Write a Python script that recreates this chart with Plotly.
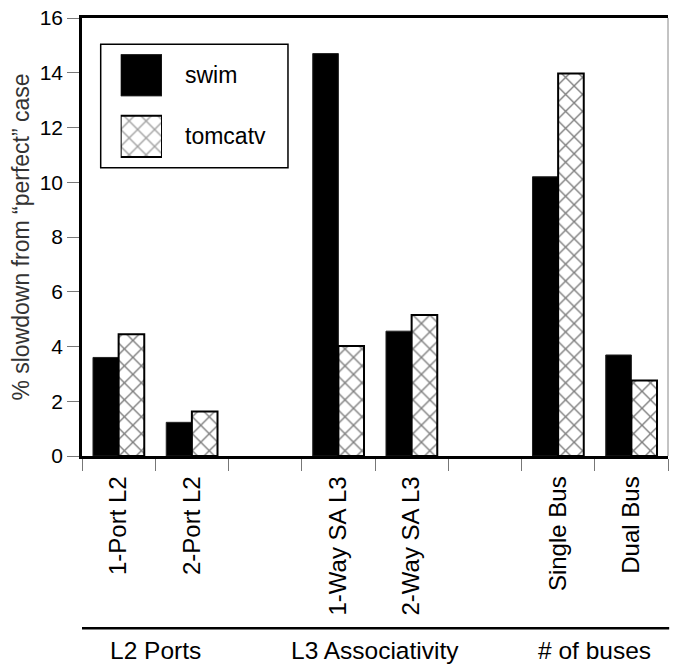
import plotly.graph_objects as go

# ---- data ----
categories = ["1-Port L2", "2-Port L2", " ", "1-Way SA L3", "2-Way SA L3", "  ", "Single Bus", "Dual Bus"]
swim = [3.6, 1.23, None, 14.7, 4.56, None, 10.2, 3.69]
tomcatv = [4.45, 1.63, None, 4.02, 5.15, None, 13.97, 2.76]
series_names = ["swim", "tomcatv"]
groups = ["L2 Ports", "L3 Associativity", "# of buses"]
group_members = [["1-Port L2", "2-Port L2"], ["1-Way SA L3", "2-Way SA L3"], ["Single Bus", "Dual Bus"]]
y_ticks = [0, 2, 4, 6, 8, 10, 12, 14, 16]

FONT = "Liberation Sans, Arial, sans-serif"
PAT = dict(shape="x", fgcolor="black", bgcolor="white", size=12, solidity=0.22)

fig = go.Figure()
fig.add_trace(go.Bar(
    name=series_names[0], x=categories, y=swim,
    marker=dict(color="black", line=dict(color="#222", width=1)),
    showlegend=False,
))
fig.add_trace(go.Bar(
    name=series_names[1], x=categories, y=tomcatv,
    marker=dict(color="white", pattern=PAT, line=dict(color="black", width=2)),
    showlegend=False,
))

# custom legend swatches on a hidden subplot
fig.add_trace(go.Bar(
    orientation="h", y=series_names, x=[1, 1], width=[0.675, 0.675],
    xaxis="x2", yaxis="y2", showlegend=False, hoverinfo="skip",
    marker=dict(color=["black", "white"],
                pattern=dict(shape=["", "x"], fgcolor="black", bgcolor="white", size=12, solidity=0.22),
                line=dict(color=["#222", "black"], width=[1, 2])),
))

annotations = []
for name in series_names:
    annotations.append(dict(x=0.1724, xref="paper", y=name, yref="y2", text=name,
                            showarrow=False, xanchor="left", yanchor="middle",
                            font=dict(size=23, color="black", family=FONT)))
for g, members in zip(groups, group_members):
    idx = [categories.index(m) for m in members]
    annotations.append(dict(x=sum(idx) / len(idx), xref="x", y=-0.445, yref="paper", text=g,
                            showarrow=False, xanchor="center", yanchor="middle",
                            font=dict(size=24.5, color="black", family=FONT)))

shapes = [
    # legend box
    dict(type="rect", xref="paper", yref="paper", x0=0.0319, x1=0.3515, y0=0.658, y1=0.9398,
         line=dict(color="black", width=1.5), fillcolor="rgba(0,0,0,0)"),
    # right border
    dict(type="line", xref="paper", yref="paper", x0=1, x1=1, y0=0, y1=1,
         line=dict(color="#888", width=1)),
    # group separator line
    dict(type="line", xref="paper", yref="paper", x0=0, x1=1.002, y0=-0.393, y1=-0.393,
         line=dict(color="black", width=2.5)),
]

fig.update_layout(
    width=674, height=669,
    margin=dict(l=82, r=6, t=16, b=213),
    paper_bgcolor="white", plot_bgcolor="white",
    barmode="group", bargap=0.3, bargroupgap=0,
    font=dict(family=FONT, color="black"),
    xaxis=dict(
        type="category", categoryorder="array", categoryarray=categories,
        range=[-0.5, len(categories) - 0.5],
        showline=True, linecolor="black", linewidth=2.5, mirror=True,
        ticks="outside", tickson="boundaries", ticklen=12, tickcolor="#777", tickwidth=1,
        tickangle=-90, ticklabelstandoff=8,
        tickfont=dict(size=24, color="black", family=FONT),
        showgrid=False, zeroline=False,
    ),
    yaxis=dict(
        range=[0, 16], tickvals=y_ticks,
        showline=True, linecolor="black", linewidth=2.5,
        ticks="outside", ticklen=12, tickcolor="#777", tickwidth=1,
        tickfont=dict(size=21, color="black", family=FONT),
        showgrid=False, zeroline=False,
        title=dict(text="% slowdown from “perfect” case", standoff=4,
                   font=dict(size=23, color="#333", family=FONT)),
    ),
    xaxis2=dict(domain=[0.066, 0.1365], range=[0, 1], anchor="y2", visible=False, fixedrange=True),
    yaxis2=dict(domain=[0.6597, 0.9392], range=[1.5, -0.5], anchor="x2", visible=False,
                type="category", categoryorder="array", categoryarray=series_names, fixedrange=True),
    annotations=annotations,
    shapes=shapes,
)

fig.write_html("out.html",
               config={"displayModeBar": False},
               post_script="document.body.style.margin='0';document.body.style.overflow='hidden';")
